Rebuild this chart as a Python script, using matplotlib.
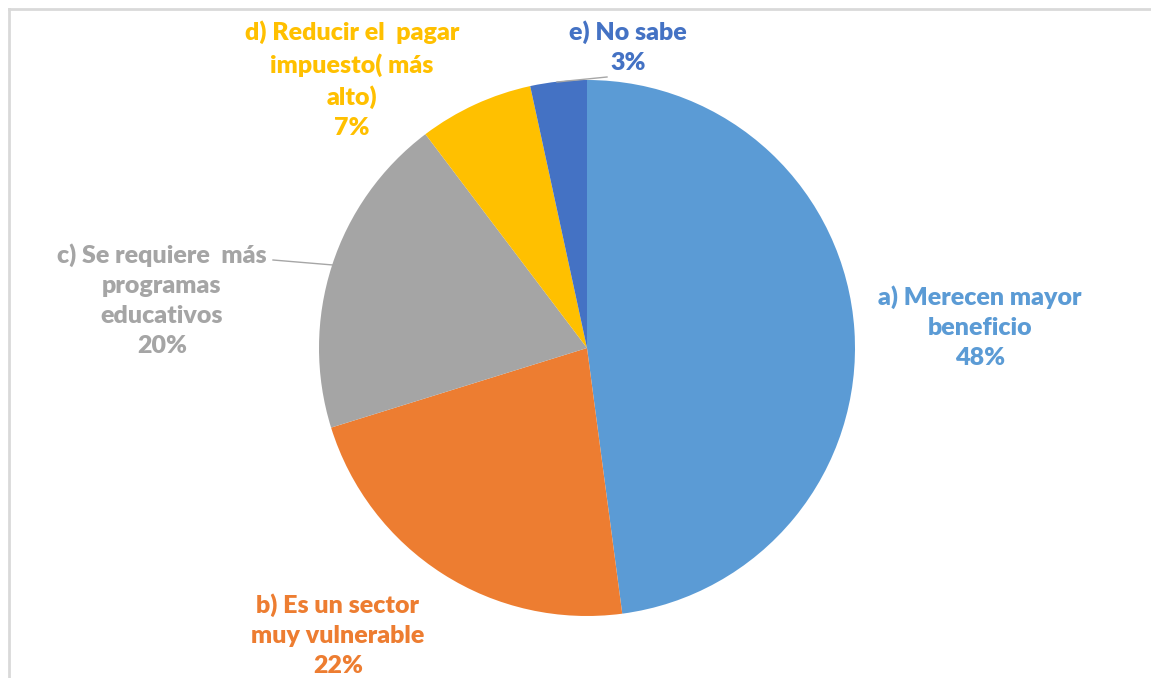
import matplotlib.pyplot as plt

# Data (slice shares; labels show rounded %)
labels = ["a) Merecen mayor\nbeneficio", "b) Es un sector\nmuy vulnerable",
          "c) Se requiere  más\nprogramas\neducativos", "d) Reducir el  pagar\nimpuesto( más\nalto)",
          "e) No sabe"]
values = [47.9, 22.3, 19.5, 6.9, 3.4]
colors = ["#5B9BD5", "#ED7D31", "#A5A5A5", "#FFC000", "#4472C4"]

W, H = 1151, 678
fig = plt.figure(figsize=(W / 100, H / 100), dpi=100)
ax = fig.add_axes([0, 0, 1, 1])

# pie (pixel coords, y flipped)
cx, cy, r = 587, H - 348, 268
ax.pie(values, colors=colors, startangle=90, counterclock=False,
       center=(cx, cy), radius=r, frame=True)
ax.set_xlim(0, W)
ax.set_ylim(0, H)
ax.set_aspect("equal")
ax.axis("off")

# label positions (pixel coords from top-left)
label_pos = [(980, 327), (338, 635), (162, 300), (352, 80), (628, 47)]
for lab, v, c, (px, py) in zip(labels, values, colors, label_pos):
    ax.text(px, H - py, f"{lab}\n{round(v)}%", color=c, ha="center", va="center",
            fontsize=18, fontweight="heavy", family=["Lato", "DejaVu Sans"],
            linespacing=1.45)

# leader lines
ax.plot([273, 333], [H - 260, H - 265], color="#A6A6A6", lw=1)
ax.plot([557, 607], [H - 82, H - 77], color="#A6A6A6", lw=1)

# chart border
ax.plot([9, 9], [0, H - 9], color="#D9D9D9", lw=2, clip_on=False)
ax.plot([9, W], [H - 9, H - 9], color="#D9D9D9", lw=2, clip_on=False)

fig.savefig("out.png", dpi=100)
